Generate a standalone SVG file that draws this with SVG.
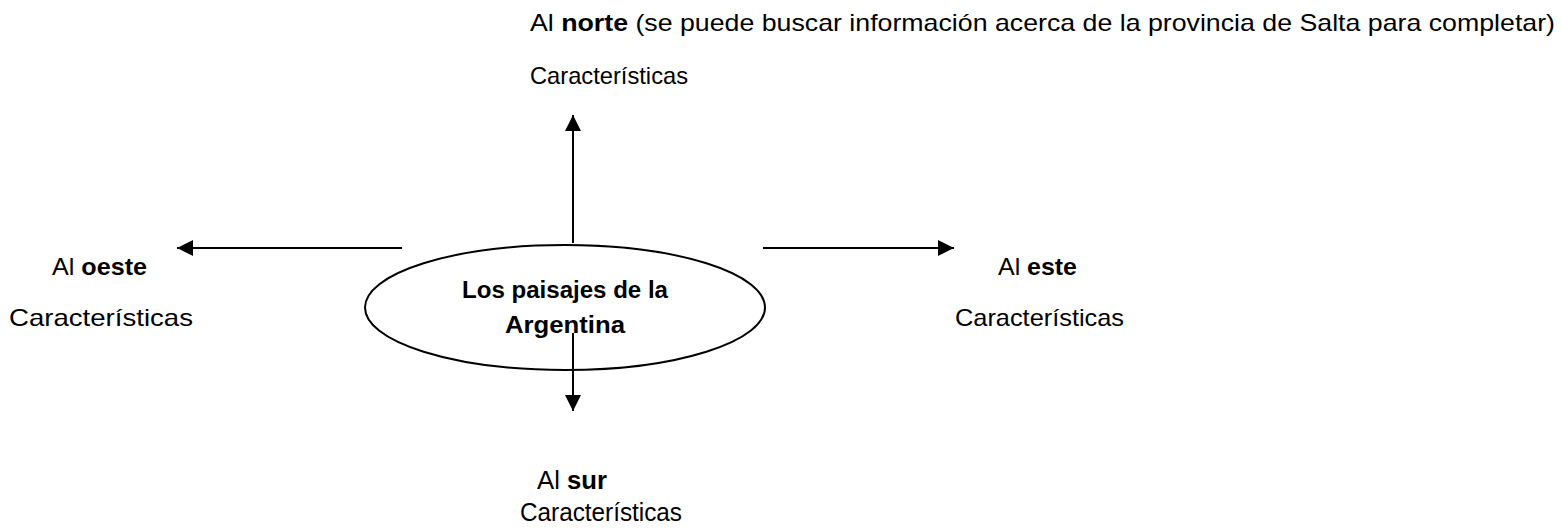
<svg xmlns="http://www.w3.org/2000/svg" width="1561" height="532" viewBox="0 0 1561 532">
<style>
text{font-family:"Liberation Sans",Arial,sans-serif;fill:#000}
.c{font-size:24px}
.m{font-size:23px}
.s{font-size:26px}
.b{font-weight:bold}
.n{fill:none;stroke:#000;stroke-width:2}
</style>
<defs>
<marker id="ah" viewBox="0 0 16 16" refX="16" refY="8" markerWidth="16" markerHeight="16" orient="auto" markerUnits="userSpaceOnUse">
<path d="M0,0 L16,8 L0,16 Z" fill="#000"/>
</marker>
</defs>
<rect width="1561" height="532" fill="#fff"/>
<g id="connectors">
<line class="n" x1="573" y1="243" x2="573" y2="115" marker-end="url(#ah)"/>
<line class="n" x1="402" y1="248" x2="177" y2="248" marker-end="url(#ah)"/>
<line class="n" x1="763" y1="248" x2="954" y2="248" marker-end="url(#ah)"/>
<line class="n" x1="573" y1="333" x2="573" y2="411" marker-end="url(#ah)"/>
</g>
<g id="centro">
<ellipse class="n" cx="565" cy="307.5" rx="200" ry="62.5" stroke-width="1.5"/>
<text class="m b" x="462" y="298" textLength="206" lengthAdjust="spacingAndGlyphs">Los paisajes de la</text>
<text class="m b" x="505" y="333" textLength="120" lengthAdjust="spacingAndGlyphs">Argentina</text>
</g>
<g id="norte">
<text class="c" x="530" y="31" textLength="1025" lengthAdjust="spacingAndGlyphs">Al <tspan class="b">norte</tspan> (se puede buscar información acerca de la provincia de Salta para completar)</text>
<text class="c" x="530" y="84" textLength="158" lengthAdjust="spacingAndGlyphs">Características</text>
</g>
<g id="oeste">
<text class="c" x="52" y="275" textLength="95" lengthAdjust="spacingAndGlyphs">Al <tspan class="b">oeste</tspan></text>
<text class="c" x="9" y="326" textLength="184" lengthAdjust="spacingAndGlyphs">Características</text>
</g>
<g id="este">
<text class="c" x="998" y="275" textLength="79" lengthAdjust="spacingAndGlyphs">Al <tspan class="b">este</tspan></text>
<text class="c" x="955" y="326" textLength="169" lengthAdjust="spacingAndGlyphs">Características</text>
</g>
<g id="sur">
<text class="s" x="537" y="489" textLength="70" lengthAdjust="spacingAndGlyphs">Al <tspan class="b">sur</tspan></text>
<text class="s" x="520" y="521" textLength="162" lengthAdjust="spacingAndGlyphs">Características</text>
</g>
</svg>
